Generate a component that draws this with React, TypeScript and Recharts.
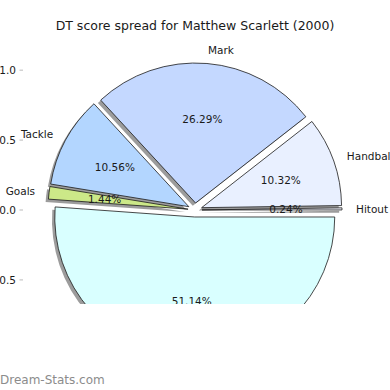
import { Line, LineChart, Pie, PieChart, Sector, XAxis, YAxis } from 'recharts'

const categories = ['Hitout', 'Handball', 'Mark', 'Tackle', 'Goals', 'Kick']
const shares = [0.24, 10.32, 26.29, 10.56, 1.44, 51.14]
const sliceColors = ['#f4f6ff', '#e9f0ff', '#c4d8ff', '#b3d6ff', '#cce888', '#d9ffff']
const axisTicks = [-1, -0.5, 0, 0.5, 1]

const title = 'DT score spread for Matthew Scarlett (2000)'
const watermark = 'Dream-Stats.com'

const FONT = '"DejaVu Sans", sans-serif'
const RADIAN = Math.PI / 180
const EXPLODE = 0.05 // same as matplotlib explode=0.05 on every wedge

const data = categories.map((name, i) => ({ name, value: shares[i], fill: sliceColors[i] }))
const frame = [{ x: 0, y: 0 }]

// shift a wedge out along its mid angle
const explodeOffset = (midAngle: number, r: number) => ({
  dx: Math.cos(-midAngle * RADIAN) * EXPLODE * r,
  dy: Math.sin(-midAngle * RADIAN) * EXPLODE * r,
})

const Wedge = (props: any) => {
  const { cx, cy, midAngle, outerRadius, startAngle, endAngle, fill } = props
  const { dx, dy } = explodeOffset(midAngle, outerRadius)
  return (
    <Sector
      cx={cx + dx}
      cy={cy + dy}
      innerRadius={0}
      outerRadius={outerRadius}
      startAngle={startAngle}
      endAngle={endAngle}
      fill={fill}
      stroke="#1a1a1a"
      strokeWidth={0.8}
    />
  )
}

const WedgeShadow = (props: any) => {
  const { cx, cy, midAngle, outerRadius, startAngle, endAngle } = props
  const { dx, dy } = explodeOffset(midAngle, outerRadius)
  const off = 0.02 * outerRadius
  return (
    <Sector
      cx={cx + dx - off}
      cy={cy + dy + off}
      innerRadius={0}
      outerRadius={outerRadius}
      startAngle={startAngle}
      endAngle={endAngle}
      fill="#4a4a4a"
      fillOpacity={0.55}
      stroke="none"
    />
  )
}

const renderLabels = (props: any) => {
  const { cx, cy, midAngle, outerRadius, name, value } = props
  const { dx, dy } = explodeOffset(midAngle, outerRadius)
  const cos = Math.cos(-midAngle * RADIAN)
  const sin = Math.sin(-midAngle * RADIAN)
  const ox = cx + dx
  const oy = cy + dy
  return (
    <g>
      <text
        x={ox + 1.1 * outerRadius * cos}
        y={oy + 1.1 * outerRadius * sin}
        textAnchor={cos > 0 ? 'start' : 'end'}
        dominantBaseline="central"
        fontSize={10.5}
        fontFamily={FONT}
        fill="#1a1a1a"
      >
        {name}
      </text>
      <text
        x={ox + 0.6 * outerRadius * cos}
        y={oy + 0.6 * outerRadius * sin}
        textAnchor="middle"
        dominantBaseline="central"
        fontSize={10.5}
        fontFamily={FONT}
        fill="#1a1a1a"
      >
        {`${value.toFixed(2)}%`}
      </text>
    </g>
  )
}

const fmt = (v: number) => (v < 0 ? '\u2212' + Math.abs(v).toFixed(1) : v.toFixed(1))

export default function App() {
  // axes need a non-zero size to draw, so 1px each is taken from the margins
  const margin = { top: 37, left: 22, right: 22, bottom: 8 }
  const tickStyle = { fill: '#1a1a1a', fontSize: 10.5, fontFamily: FONT }
  return (
    <div style={{ position: 'absolute', left: 0, top: 0, width: 390, height: 390, background: '#fff', overflow: 'hidden' }}>
      <div style={{ position: 'absolute', left: 0, top: 0 }}>
        <LineChart width={390} height={390} data={frame} margin={margin}>
          <XAxis
            xAxisId="top"
            orientation="top"
            type="number"
            dataKey="x"
            domain={[-1.23, 1.23]}
            ticks={axisTicks}
            height={1}
            tick={false}
            axisLine={false}
            tickSize={3.5}
            tickLine={{ stroke: '#bbbbbb' }}
          />
          <YAxis
            yAxisId="left"
            type="number"
            dataKey="y"
            domain={[-1.23, 1.23]}
            ticks={axisTicks}
            width={1}
            axisLine={false}
            tickSize={3.5}
            tickMargin={3.5}
            tickLine={{ stroke: '#bbbbbb' }}
            tick={tickStyle}
            tickFormatter={fmt}
          />
          <YAxis
            yAxisId="right"
            orientation="right"
            type="number"
            domain={[-1.23, 1.23]}
            ticks={axisTicks}
            width={1}
            axisLine={false}
            tick={false}
            tickSize={3.5}
            tickLine={{ stroke: '#bbbbbb' }}
          />
          <Line xAxisId="top" yAxisId="left" dataKey="y" stroke="none" dot={false} isAnimationActive={false} />
        </LineChart>
      </div>
      <div style={{ position: 'absolute', left: 0, top: 0 }}>
        <PieChart width={390} height={390} margin={{ top: 0, left: 0, right: 0, bottom: 0 }}>
          <Pie
            data={data}
            dataKey="value"
            nameKey="name"
            cx={195}
            cy={210}
            outerRadius={140}
            startAngle={0}
            endAngle={360}
            stroke="none"
            shape={WedgeShadow}
            isAnimationActive={false}
          />
          <Pie
            data={data}
            dataKey="value"
            nameKey="name"
            cx={195}
            cy={210}
            outerRadius={140}
            startAngle={0}
            endAngle={360}
            shape={Wedge}
            label={renderLabels}
            labelLine={false}
            isAnimationActive={false}
          />
        </PieChart>
      </div>
      <div
        style={{
          position: 'absolute',
          left: 0,
          top: 18,
          width: 390,
          textAlign: 'center',
          fontFamily: FONT,
          fontSize: 12.5,
          lineHeight: '16px',
          color: '#1a1a1a',
        }}
      >
        {title}
      </div>
      <div style={{ position: 'absolute', left: 0, top: 304, width: 390, height: 86, background: '#fff' }} />
      <div
        style={{
          position: 'absolute',
          left: 0,
          top: 373,
          fontFamily: FONT,
          fontSize: 12,
          lineHeight: '14px',
          color: '#8c8c8c',
        }}
      >
        {watermark}
      </div>
    </div>
  )
}
